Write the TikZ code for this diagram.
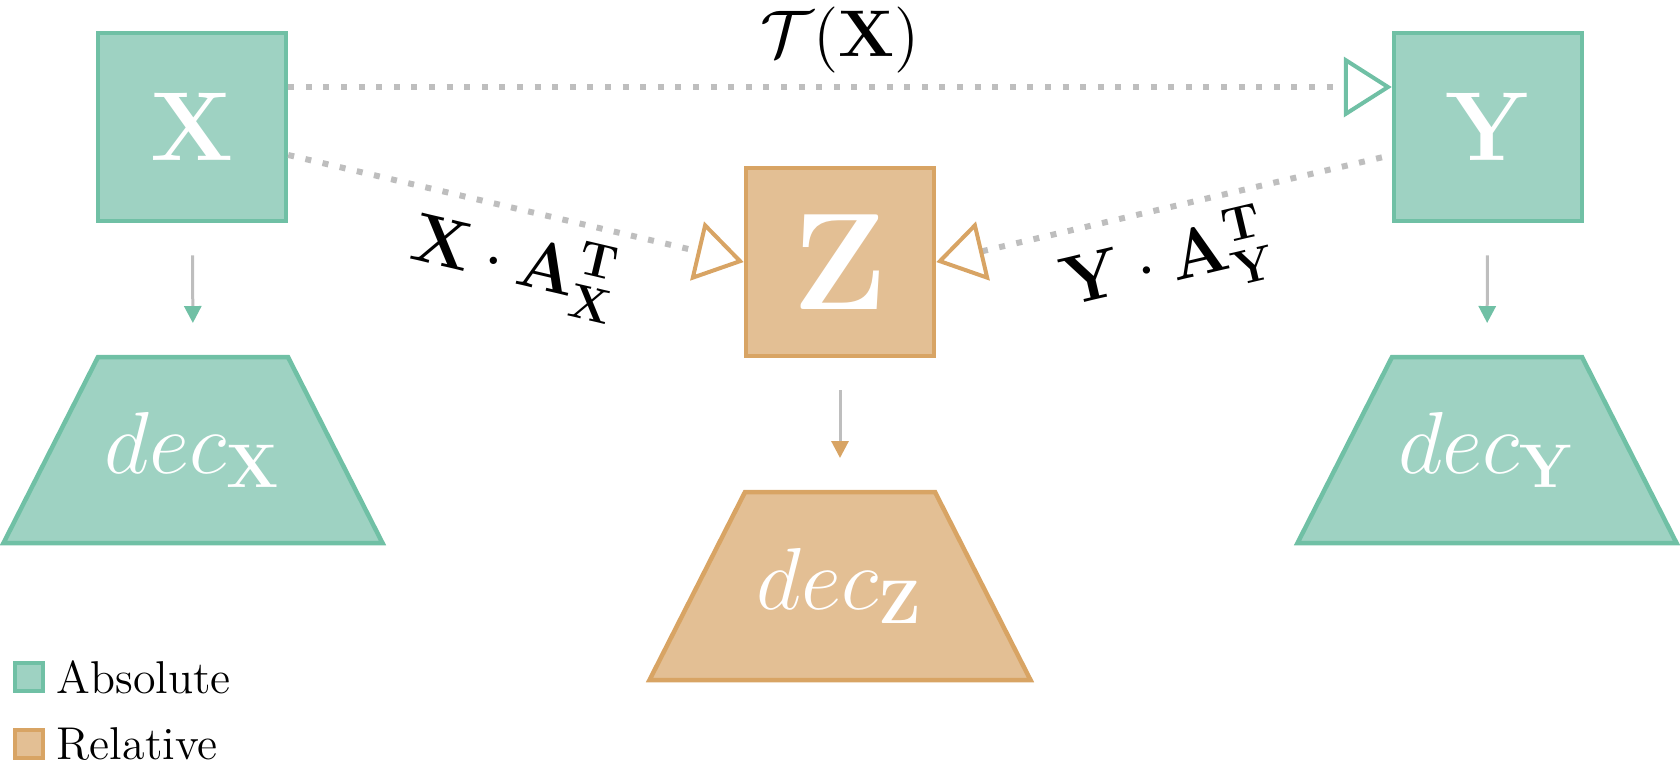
\RequirePackage{fix-cm}
\documentclass[tikz,border=0pt]{standalone}
\usepackage{amsmath}
\usetikzlibrary{arrows.meta}
\definecolor{gborder}{RGB}{112,192,165}
\definecolor{gfill}{RGB}{158,210,194}
\definecolor{oborder}{RGB}{216,164,100}
\definecolor{ofill}{RGB}{227,191,148}
\definecolor{dotgrey}{RGB}{190,190,190}
\tikzset{
  absbox/.style={draw=gborder, fill=gfill, line width=1.125pt, minimum size=47pt, inner sep=0pt, text=white, font=\fontsize{24.5}{30}\selectfont},
  relbox/.style={absbox, draw=oborder, fill=ofill, font=\fontsize{34.5}{42}\selectfont},
  abspoly/.style={draw=gborder, fill=gfill, line width=1.125pt},
  relpoly/.style={draw=oborder, fill=ofill, line width=1.125pt},
  dectext/.style={inner sep=0pt, text=white, font=\fontsize{22}{27}\selectfont},
  vertarrow/.style={draw=dotgrey, line width=0.75pt, shorten <=8pt, shorten >=8.5pt, -{Triangle[length=4.25pt,width=4.25pt,color=#1]}},
  dotline/.style={draw=dotgrey, line width=1.5pt, dash pattern=on 1.5pt off 2.9pt},
  opentip/.style={-{Triangle[open, length=12pt, width=15pt, line width=1pt, color=#1]}},
  opentipstart/.style={{Triangle[open, length=12pt, width=15pt, line width=1pt, color=#1]}-},
  lbl/.style={font=\fontsize{16.5}{20}\selectfont},
  slbl/.style={font=\fontsize{17.3}{21}\selectfont, sloped, below, inner sep=3pt},
  legsq/.style={draw=#1, line width=1pt, minimum size=7pt, inner sep=0pt},
  legtext/.style={anchor=base west, inner sep=0pt, font=\fontsize{11.5}{14}\selectfont}
}
\begin{document}
\begin{tikzpicture}[x=0.25pt, y=-0.25pt]
\useasboundingbox (0,0) rectangle (1680,765);
% boxes
\node[absbox] (X) at (192,127) {$\mathbf{X}$};
\node[absbox] (Y) at (1488,127) {$\mathbf{Y}$};
\node[relbox] (Z) at (840,262) {$\mathbf{Z}$};
% decoders
\draw[abspoly] (193,450) ++(-95,-93) -- ++(190,0) -- ++(94.5,186) -- ++(-379,0) -- cycle;
\draw[relpoly] (840,586) ++(-95,-94) -- ++(190,0) -- ++(95.5,188) -- ++(-381,0) -- cycle;
\draw[abspoly] (1487,450) ++(-95,-93) -- ++(190,0) -- ++(94.5,186) -- ++(-379,0) -- cycle;
\coordinate (decXtop) at (193,357);
\coordinate (decZtop) at (840,492);
\coordinate (decYtop) at (1487,357);
\node[dectext] (decX) at (193,450) {$dec_{\mathbf{X}}$};
\node[dectext] (decZ) at (840,586) {$dec_{\mathbf{Z}}$};
\node[dectext] (decY) at (1487,450) {$dec_{\mathbf{Y}}$};
% vertical arrows
\draw[vertarrow=gborder] (X) -- (decXtop);
\draw[vertarrow=oborder] (Z) -- (decZtop);
\draw[vertarrow=gborder] (Y) -- (decYtop);
% dotted connectors
\draw[dotline, opentip=gborder] ([yshift=10pt]X.east) -- ([yshift=10pt]Y.west)
  node[midway, above, inner sep=2.75pt, lbl] (tlbl) {$\mathcal{T}(\mathbf{X})$};
\draw[dotline, opentip=oborder] ([yshift=-7pt]X.east) -- (Z.west)
  node[pos=0.525, slbl] (xlbl) {$\mathbf{X}\cdot\mathbf{A}_{\mathbf{X}}^{\mathbf{T}}$};
\draw[dotline, opentipstart=oborder] (Z.east) -- ([yshift=-7pt]Y.west)
  node[pos=0.48, slbl] (ylbl) {$\mathbf{Y}\cdot\mathbf{A}_{\mathbf{Y}}^{\mathbf{T}}$};
% legend
\node[legsq=gborder, fill=gfill] (legA) at (29,677) {};
\node[legtext] (legAt) at (56,693) {Absolute};
\node[legsq=oborder, fill=ofill] (legR) at (29,744) {};
\node[legtext] (legRt) at (56,759) {Relative};
\end{tikzpicture}
\end{document}
